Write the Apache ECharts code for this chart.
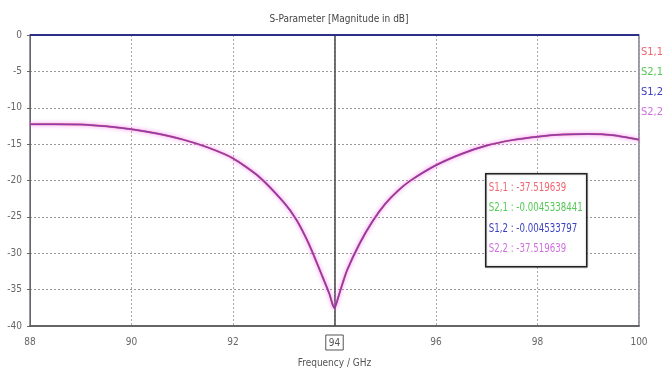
<!DOCTYPE html>
<html>
<head>
<meta charset="utf-8">
<script src="https://cdn.jsdelivr.net/npm/echarts@6/dist/echarts.min.js"></script>
<style>
  html, body { margin: 0; padding: 0; background: #fff; }
  #chart { width: 667px; height: 374px; }
</style>
</head>
<body>
<div id="chart"></div>
<script>
// frequency points (GHz)
var freq = [88, 88.5, 89, 89.5, 90, 90.5, 91, 91.5, 92, 92.5, 93, 93.25, 93.5, 93.75, 93.9, 93.96, 94, 94.05, 94.12, 94.25, 94.5, 94.75, 95, 95.25, 95.5, 96, 96.5, 97, 97.5, 98, 98.5, 99, 99.5, 100]
// reflection (S1,1 and S2,2 are the same curve)
var s11 = [-12.27, -12.27, -12.3, -12.55, -12.95, -13.55, -14.35, -15.45, -16.95, -19.4, -23.0, -25.4, -28.8, -33.0, -35.6, -37.0, -37.52, -36.6, -35.0, -32.3, -28.6, -25.6, -23.2, -21.4, -20.0, -17.9, -16.35, -15.2, -14.45, -13.97, -13.68, -13.6, -13.78, -14.4]
var s22 = s11.slice()
// transmission, near 0 dB
var s21 = [-0.0045, -0.0045, -0.0045, -0.0045, -0.0045, -0.0045, -0.0045, -0.0045, -0.0045, -0.0045, -0.0045, -0.0045, -0.0045, -0.0045, -0.0045, -0.0045, -0.0045, -0.0045, -0.0045, -0.0045, -0.0045, -0.0045, -0.0045, -0.0045, -0.0045, -0.0045, -0.0045, -0.0045, -0.0045, -0.0045, -0.0045, -0.0045, -0.0045, -0.0045]
var s12 = s21.slice()

var seriesNames = ['S1,1', 'S2,1', 'S1,2', 'S2,2']
var seriesColors = ['#ec5a62', '#4cc24c', '#2c2f88', '#8e3ca6']
var labelColors = ['#f0646e', '#55c855', '#3a3fc0', '#d070e0']
var markerFreq = 94
var markerValues = ['-37.519639', '-0.0045338441', '-0.004533797', '-37.519639']
var yTicks = [0, -5, -10, -15, -20, -25, -30, -35, -40]

var font = '"DejaVu Sans Condensed", "Liberation Sans Narrow", "Liberation Sans", sans-serif'

function pairs(vals) {
  return freq.map(function (f, i) { return [f, vals[i]] })
}

var chart = echarts.init(document.getElementById('chart'))

var allVals = [s11, s21, s12, s22]
var series = allVals.map(function (vals, i) {
  var s = {
    name: seriesNames[i],
    type: 'line',
    data: pairs(vals),
    showSymbol: false,
    smooth: 0.2,
    color: labelColors[i],
    lineStyle: { width: i === 3 ? 1.5 : 2, color: seriesColors[i] },
    z: 3 + i
  }
  if (i === 3) {
    s.lineStyle.shadowColor = 'rgba(235,90,235,1)'
    s.lineStyle.shadowBlur = 4
    // marker at 94 GHz
    s.markLine = {
      silent: true,
      symbol: ['none', 'none'],
      lineStyle: { color: '#444', width: 1.5, type: 'solid', shadowBlur: 0 },
      label: {
        show: true,
        position: 'start',
        formatter: String(markerFreq),
        color: '#555',
        fontFamily: font,
        fontSize: 10,
        borderColor: '#555',
        borderWidth: 1,
        padding: [3, 3, 2, 3],
        distance: 9
      },
      data: [{ xAxis: markerFreq }]
    }
  }
  return s
})

chart.setOption({
  animation: false,
  title: {
    text: 'S-Parameter [Magnitude in dB]',
    left: 334,
    textAlign: 'center',
    top: 9,
    textStyle: { fontFamily: font, fontSize: 10, fontWeight: 'normal', color: '#444' }
  },
  legend: {
    orient: 'vertical',
    left: 631,
    top: 42,
    itemWidth: 0,
    itemHeight: 0,
    itemGap: 9,
    icon: 'none',
    textStyle: { fontFamily: font, fontSize: 11 },
    data: seriesNames.map(function (n, i) {
      return { name: n, textStyle: { color: labelColors[i] } }
    })
  },
  grid: {
    left: 30,
    right: 28,
    top: 35,
    bottom: 48,
    show: true,
    borderColor: '#778',
    borderWidth: 1.5
  },
  xAxis: {
    type: 'value',
    min: 88,
    max: 100,
    interval: 2,
    name: 'Frequency / GHz',
    nameLocation: 'middle',
    nameGap: 32,
    nameTextStyle: { fontFamily: font, fontSize: 10, color: '#555' },
    axisLine: { onZero: false, lineStyle: { color: '#555', width: 1.5 } },
    axisTick: { show: false },
    axisLabel: {
      fontFamily: font,
      fontSize: 10,
      color: '#666',
      margin: 11,
      formatter: function (v) { return v === markerFreq ? '' : String(v) }
    },
    splitLine: { show: true, lineStyle: { color: '#aaa', type: [2, 2], width: 1 } }
  },
  yAxis: {
    type: 'value',
    min: -40,
    max: 0,
    interval: 5,
    axisLine: { show: true, lineStyle: { color: '#666', width: 1 } },
    axisTick: { show: true, length: 3, lineStyle: { color: '#666' } },
    axisLabel: {
      fontFamily: font,
      fontSize: 10,
      color: '#666',
      margin: 8,
      formatter: function (v) { return yTicks.indexOf(v) >= 0 ? String(v) : '' }
    },
    splitLine: { show: true, lineStyle: { color: '#999', type: [2, 2], width: 1 } }
  },
  graphic: [{
    type: 'group',
    left: 485,
    top: 173,
    z: 100,
    children: [{
      type: 'rect',
      z: 100,
      shape: { x: 0, y: 0, width: 101, height: 93 },
      style: { fill: '#fff', stroke: '#222', lineWidth: 1.5, shadowBlur: 2, shadowColor: 'rgba(0,0,0,0.3)' }
    }].concat(seriesNames.map(function (n, i) {
      return {
        type: 'text',
        z: 101,
        x: 3,
        y: 8 + i * 20.5,
        scaleX: 0.8,
        style: {
          text: n + ' : ' + markerValues[i],
          fill: labelColors[i],
          font: '12px ' + font
        }
      }
    }))
  }],
  series: series
})
</script>
</body>
</html>
